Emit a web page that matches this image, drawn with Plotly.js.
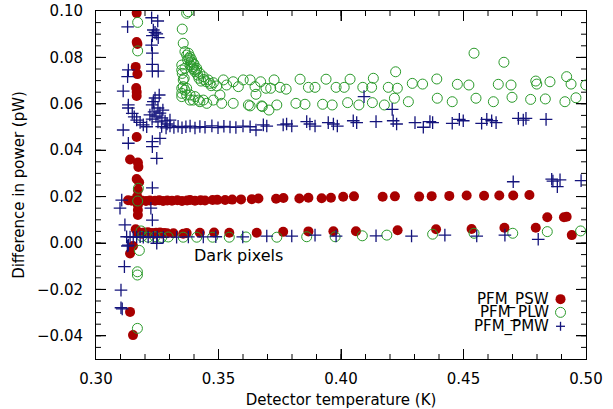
<!DOCTYPE html>
<html>
<head>
<meta charset="utf-8">
<script src="https://cdn.plot.ly/plotly-3.0.1.min.js"></script>
<style>html,body{margin:0;padding:0;background:#fff;}#chart{width:613px;height:409px;}</style>
</head>
<body>
<div id="chart"></div>
<script>
// ---- data ----
const seriesNames = ["PFM_PSW", "PFM_PLW", "PFM_PMW"];

const pswX = [
  0.3166,0.3166,0.3169,0.3162,0.3169,0.3164,0.3166,0.3166,0.3166,0.3139,0.3171,0.3173,0.3166,0.3176,0.3171,0.3168,0.3171,0.3171,0.3171,0.3151,0.3139,0.3139,0.3151,
  0.3131,0.3146,0.3166,0.3186,0.3204,0.3220,0.3241,0.3258,0.3274,0.3291,0.3310,0.3332,0.3351,0.3372,0.3384,0.3404,0.3427,0.3445,0.3476,0.3495,0.3527,0.3556,0.3592,0.3636,0.3663,0.3735,0.3765,0.3830,0.3867,0.3921,0.3959,0.4009,0.4053,0.4170,0.4220,0.4319,0.4370,0.4442,0.4513,0.4584,0.4646,0.4703,0.4769,
  0.4842,0.4910,0.4921,
  0.3162,0.3171,0.3180,0.3188,0.3196,0.3204,0.3212,0.3220,0.3229,0.3237,0.3245,0.3253,0.3261,0.3269,0.3278,0.3290,0.3316,0.3356,0.3370,0.3424,0.3482,0.3544,0.3656,0.3764,0.3867,0.3969,0.4061,0.4231,0.4388,0.4533,0.4667,0.4795,0.4942
];
const pswY = [
  0.0991,0.0866,0.0858,0.0759,0.0728,0.0668,0.0651,0.0634,0.0457,0.0360,0.0347,0.0328,0.0276,0.0262,0.0228,0.0200,0.0164,0.0142,0.0121,-0.0013,-0.0045,-0.0297,-0.0397,
  0.0184,0.0182,0.0186,0.0183,0.0181,0.0183,0.0182,0.0184,0.0181,0.0183,0.0182,0.0184,0.0181,0.0183,0.0185,0.0182,0.0184,0.0183,0.0185,0.0186,0.0185,0.0187,0.0188,0.0189,0.0192,0.0191,0.0194,0.0192,0.0195,0.0193,0.0195,0.0199,0.0201,0.0199,0.0201,0.0200,0.0202,0.0203,0.0205,0.0204,0.0205,0.0205,0.0207,
  0.0111,0.0111,0.0113,
  0.0059,0.0042,0.0044,0.0040,0.0045,0.0042,0.0046,0.0041,0.0043,0.0040,0.0044,0.0042,0.0045,0.0041,0.0043,0.0042,0.0042,0.0040,0.0043,0.0044,0.0045,0.0044,0.0044,0.0048,0.0050,0.0051,0.0051,0.0055,0.0059,0.0060,0.0066,0.0066,0.0034
];

const plwX = [
  0.3170,0.3170,0.3173,0.3170,0.3184,0.3177,0.3169,0.3169,0.3169,
  0.3187,0.3213,0.3241,0.3268,0.3295,0.3356,0.3411,0.3476,0.3544,0.3612,0.3738,0.3860,0.3976,0.4087,0.4187,0.4374,0.4543,0.4701,0.4842,0.4978,
  0.3370,0.3377,0.3352,0.3356,0.3363,0.3377,0.3370,0.3384,0.3380,0.3374,0.3388,0.3397,0.3384,0.3393,0.3411,0.3401,0.3404,0.3424,0.3415,0.3438,0.3420,0.3458,0.3429,0.3479,0.3493,0.3520,0.3533,0.3560,0.3581,0.3601,0.3390,0.3400,0.3410,0.3395,0.3440,0.3450,0.3465,0.3470,
  0.3350,0.3356,0.3350,0.3363,0.3350,0.3370,0.3384,0.3404,0.3418,0.3438,0.3452,0.3479,0.3506,0.3513,0.3560,0.3622,0.3676,0.3350,0.3352,0.3360,0.3356,0.3370,0.3350,0.3384,0.3397,0.3424,0.3363,
  0.3629,0.3649,0.3672,0.3694,0.3713,0.3727,0.3751,0.3776,0.3833,0.3867,0.3894,0.3939,0.3980,0.4013,0.4037,0.4089,0.4125,0.4132,0.4193,0.4230,0.4223,0.4291,0.4333,0.4391,0.4475,0.4522,0.4543,0.4642,0.4665,0.4694,0.4795,0.4799,0.4853,0.4921,0.4939,0.4999,
  0.3653,0.3629,0.3679,0.3706,0.3738,0.3816,0.3853,0.3925,0.3964,0.4027,0.4073,0.4128,0.4177,0.4218,0.4275,0.4393,0.4454,0.4551,0.4622,0.4698,0.4774,0.4834,0.4914,0.4959
];
const plwY = [
  0.0951,0.0828,0.0236,0.0181,0.0052,-0.0032,-0.0124,-0.0138,-0.0368,
  0.0028,0.0025,0.0027,0.0024,0.0026,0.0025,0.0025,0.0025,0.0025,0.0026,0.0025,0.0027,0.0027,0.0031,0.0034,0.0038,0.0042,0.0042,0.0049,0.0052,
  0.0990,0.0997,0.0922,0.0861,0.0825,0.0818,0.0810,0.0803,0.0796,0.0789,0.0781,0.0775,0.0767,0.0760,0.0753,0.0746,0.0738,0.0731,0.0724,0.0717,0.0710,0.0703,0.0698,0.0691,0.0677,0.0703,0.0681,0.0695,0.0674,0.0703,0.0790,0.0770,0.0745,0.0752,0.0705,0.0695,0.0688,0.0678,
  0.0746,0.0703,0.0667,0.0659,0.0631,0.0638,0.0616,0.0631,0.0616,0.0616,0.0602,0.0616,0.0638,0.0602,0.0602,0.0595,0.0591,0.0767,0.0731,0.0710,0.0674,0.0667,0.0645,0.0638,0.0616,0.0609,0.0753,
  0.0703,0.0674,0.0695,0.0667,0.0667,0.0703,0.0671,0.0663,0.0706,0.0671,0.0671,0.0706,0.0671,0.0671,0.0706,0.0671,0.0671,0.0710,0.0671,0.0667,0.0738,0.0688,0.0685,0.0707,0.0684,0.0681,0.0818,0.0684,0.0779,0.0681,0.0698,0.0685,0.0695,0.0717,0.0685,0.0681,
  0.0641,0.0591,0.0588,0.0573,0.0595,0.0602,0.0598,0.0598,0.0595,0.0605,0.0595,0.0605,0.0595,0.0624,0.0609,0.0624,0.0609,0.0624,0.0609,0.0628,0.0619,0.0621,0.0609,0.0626
];

const pmwX = [
  0.3227,0.3252,0.3129,0.3234,0.3241,0.3230,0.3254,0.3248,0.3227,0.3230,0.3132,0.3129,0.3230,0.3230,0.3254,0.3111,0.3258,0.3234,
  0.3241,0.3229,0.3253,0.3237,0.3261,0.3245,0.3269,0.3229,0.3282,0.3253,0.3290,0.3273,0.3220,0.3302,
  0.3132,0.3132,0.3148,0.3156,0.3166,0.3180,0.3193,0.3207,
  0.3268,0.3286,0.3302,0.3318,0.3335,0.3351,0.3367,0.3384,0.3404,0.3424,0.3445,0.3473,0.3498,0.3522,0.3547,0.3571,0.3600,0.3629,
  0.3111,0.3132,0.3230,0.3230,0.3261,0.3248,
  0.3653,0.3683,0.3697,0.3764,0.3778,0.3799,0.3860,0.3873,0.3894,0.3948,0.3969,0.3985,0.4050,0.4064,0.4143,0.4213,0.4227,0.4302,0.4336,0.4363,0.4374,
  0.4094,0.4209,
  0.4454,0.4483,0.4499,0.4574,0.4595,0.4615,0.4633,0.4724,0.4744,0.4755,0.4837,
  0.3125,0.3139,0.3152,0.3166,0.3180,0.3193,0.3213,0.3234,0.3250,0.3275,0.3329,0.3377,0.3438,0.3489,0.3599,0.3697,0.3799,0.3894,0.3980,0.4143,0.4288,0.4424,0.4554,0.4669,
  0.3132,0.3248,0.3128,
  0.3118,0.3105,0.3098,0.3230,0.3224,0.3230,0.3116,0.3102,0.3102,0.3107,0.4805,
  0.4703,0.4860,0.4865,0.4894,0.4883,0.4980
];
const pmwY = [
  0.0971,0.0957,0.0932,0.0918,0.0908,0.0894,0.0885,0.0901,0.0853,0.0818,0.0746,0.0717,0.0770,0.0741,0.0741,0.0655,0.0638,0.0609,
  0.0625,0.0595,0.0582,0.0565,0.0560,0.0547,0.0539,0.0534,0.0526,0.0522,0.0513,0.0573,0.0552,0.0530,
  0.0595,0.0582,0.0559,0.0544,0.0530,0.0520,0.0509,0.0501,
  0.0502,0.0496,0.0505,0.0498,0.0503,0.0497,0.0501,0.0504,0.0496,0.0502,0.0499,0.0505,0.0497,0.0503,0.0500,0.0498,0.0504,0.0501,
  0.0487,0.0430,0.0437,0.0415,0.0451,0.0365,
  0.0487,0.0509,0.0504,0.0509,0.0513,0.0504,0.0523,0.0513,0.0504,0.0519,0.0513,0.0504,0.0527,0.0519,0.0523,0.0527,0.0513,0.0519,0.0499,0.0523,0.0519,
  0.0631,0.0576,
  0.0516,0.0533,0.0527,0.0516,0.0533,0.0527,0.0519,0.0537,0.0530,0.0537,0.0533,
  0.0027,0.0026,0.0025,0.0026,0.0027,0.0025,0.0026,0.0025,0.0026,0.0025,0.0025,0.0026,0.0026,0.0027,0.0026,0.0030,0.0030,0.0034,0.0030,0.0031,0.0030,0.0034,0.0030,0.0034,
  -0.0009,-0.0001,-0.0013,
  0.0078,0.0185,0.0150,0.0238,0.0150,0.0099,-0.0102,-0.0203,-0.0279,-0.0284,0.0016,
  0.0264,0.0275,0.0267,0.0272,0.0243,0.0269
];

// axis ticks (labels come out as 0.30 … 0.50 and −0.04 … 0.10)
const xRange = [0.30, 0.50], xTick0 = 0.30, xDtick = 0.05, xMinorDtick = 0.01;
const yRange = [-0.05, 0.10], yTick0 = 0.00, yDtick = 0.02, yMinorDtick = 0.005;
const tickFormat = ".2f";

const xTitle = "Detector temperature (K)";
const yTitle = "Difference in power (pW)";
const noteText = "Dark pixels";
const noteX = [0.3392];
const noteY = [-0.0056];

// ---- styles ----
const FONT = "DejaVu Sans, Verdana, sans-serif";
const red = "#a80000", green = "#2a9a2a", navy = "#14147c";
const styles = [
  {symbol: "circle", size: 10, color: red, line: {width: 0}},
  {symbol: "circle-open", size: 10, color: green, line: {width: 1, color: green}},
  {symbol: "cross-thin-open", size: 9, color: navy, line: {width: 1.3, color: navy}}
];

// ---- inside tick marks on all four sides, drawn as one hairline path on the axes ----
const PLOT_W = 613 - 96 - 27, PLOT_H = 409 - 11 - 50;
const pxX = (xRange[1] - xRange[0]) / PLOT_W, pxY = (yRange[1] - yRange[0]) / PLOT_H;
const tickX = [], tickY = [];
function pushTicks(letter, start, end, step, len) {
  const n = Math.round((end - start) / step);
  for (let i = 0; i <= n; i++) {
    const v = +(start + i * step).toFixed(6);
    if (letter === "x") {
      tickX.push(v, v, null, v, v, null);
      tickY.push(yRange[0], yRange[0] + len * pxY, null, yRange[1], yRange[1] - len * pxY, null);
    } else {
      tickX.push(xRange[0], xRange[0] + len * pxX, null, xRange[1], xRange[1] - len * pxX, null);
      tickY.push(v, v, null, v, v, null);
    }
  }
}
pushTicks("x", xRange[0] + xMinorDtick, xRange[1] - xMinorDtick, xMinorDtick, 5);
pushTicks("x", xTick0 + xDtick, xRange[1] - xDtick, xDtick, 10);
pushTicks("y", yRange[0] + yMinorDtick, yRange[1] - yMinorDtick, yMinorDtick, 5);
pushTicks("y", -0.04, yRange[1] - yDtick, yDtick, 10);

const traces = [
  {x: tickX, y: tickY, type: "scatter", mode: "lines", line: {color: "#000", width: 1}, connectgaps: false,
   showlegend: false, hoverinfo: "skip", cliponaxis: false},
  {x: pswX, y: pswY, type: "scatter", mode: "markers", name: seriesNames[0], marker: styles[0], showlegend: false},
  {x: plwX, y: plwY, type: "scatter", mode: "markers", name: seriesNames[1], marker: styles[1], showlegend: false},
  {x: pmwX, y: pmwY, type: "scatter", mode: "markers", name: seriesNames[2], marker: styles[2], showlegend: false}
];

// custom legend (text left of its key), keys as pixel-sized paper shapes
const legX = 0.948, legY = [0.172, 0.134, 0.094];
const shapes = [
  {type: "circle", xref: "paper", yref: "paper", xsizemode: "pixel", ysizemode: "pixel",
   xanchor: legX, yanchor: legY[0], x0: -5, x1: 5, y0: -5, y1: 5, fillcolor: red, line: {width: 0}},
  {type: "circle", xref: "paper", yref: "paper", xsizemode: "pixel", ysizemode: "pixel",
   xanchor: legX, yanchor: legY[1], x0: -5, x1: 5, y0: -5, y1: 5, fillcolor: "rgba(0,0,0,0)", line: {width: 1, color: green}},
  {type: "line", xref: "paper", yref: "paper", xsizemode: "pixel", ysizemode: "pixel",
   xanchor: legX, yanchor: legY[2], x0: -4.5, x1: 4.5, y0: 0, y1: 0, line: {width: 1.3, color: navy}},
  {type: "line", xref: "paper", yref: "paper", xsizemode: "pixel", ysizemode: "pixel",
   xanchor: legX, yanchor: legY[2], x0: 0, x1: 0, y0: -4.5, y1: 4.5, line: {width: 1.3, color: navy}}
];

const annotations = seriesNames.map((n, i) => ({
  xref: "paper", yref: "paper", x: 0.928, y: legY[i], text: n, showarrow: false,
  xanchor: "right", yanchor: "middle", font: {family: FONT, size: 15, color: "#000"}
}));
annotations.push({xref: "x", yref: "y", x: noteX[0], y: noteY[0], text: noteText, showarrow: false,
  xanchor: "left", yanchor: "middle", font: {family: FONT, size: 16, color: "#000"}});

const axisCommon = {
  showline: true, linecolor: "#000", linewidth: 1, mirror: "allticks",
  ticks: "inside", ticklen: 10, tickwidth: 1, tickcolor: "#000", tickmode: "linear", tickformat: tickFormat,
  showgrid: false, zeroline: false, tickfont: {family: FONT, size: 15, color: "#000"}
};

const layout = {
  width: 613, height: 409,
  margin: {l: 96, r: 27, t: 11, b: 50},
  paper_bgcolor: "#fff", plot_bgcolor: "#fff",
  font: {family: FONT, color: "#000"},
  showlegend: false,
  xaxis: Object.assign({}, axisCommon, {
    range: xRange, tick0: xTick0, dtick: xDtick, ticklabelstandoff: 6,
    title: {text: xTitle, font: {family: FONT, size: 15}, standoff: 8}
  }),
  yaxis: Object.assign({}, axisCommon, {
    range: yRange, tick0: yTick0, dtick: yDtick, ticklabelstandoff: 9,
    title: {text: yTitle, font: {family: FONT, size: 15}, standoff: 8}
  }),
  shapes: shapes,
  annotations: annotations
};

Plotly.newPlot("chart", traces, layout, {displayModeBar: false, staticPlot: true});
</script>
</body>
</html>
